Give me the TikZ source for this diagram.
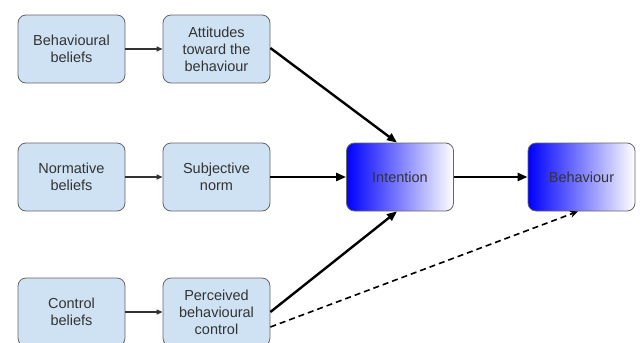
\documentclass[tikz,border=0pt]{standalone}
\usepackage{fontspec}
\setmainfont{Liberation Sans}
\usetikzlibrary{arrows.meta}
\definecolor{boxblue}{RGB}{207,226,243}
\definecolor{boxline}{RGB}{102,102,102}
\definecolor{boxtext}{RGB}{51,51,51}
\begin{document}
\begin{tikzpicture}[x=1pt,y=-1pt,
  belief/.style={
    draw=boxline, fill=boxblue, rounded corners=8pt, thick,
    minimum width=107pt, minimum height=68pt, align=center,
    text=boxtext, font=\fontsize{14.5}{17}\selectfont,
  },
  result/.style={
    belief, fill=none, left color=blue, right color=white,
  },
  thin arrow/.style={-{Triangle[length=6pt,width=5pt]}, line width=1.2pt, draw=black!80},
  thick arrow/.style={-{Triangle[length=10pt,width=8pt]}, line width=2.4pt},
  ]
  \clip (0,0) rectangle (641,343);
  \node[belief] (BB) at (71.5,49) {Behavioural\\beliefs};
  \node[belief] (AT) at (216.5,49) {Attitudes\\toward the\\behaviour};
  \node[belief] (NB) at (71.5,177) {Normative\\beliefs};
  \node[belief] (SN) at (216.5,177) {Subjective\\norm};
  \node[belief] (CB) at (71.5,312) {Control\\beliefs};
  \node[belief] (PC) at (216.5,312) {Perceived\\behavioural\\control};
  \node[result] (I) at (400,177) {Intention};
  \node[result] (B) at (581.5,177) {Behaviour};
  \draw[thin arrow] (BB) -- (AT);
  \draw[thin arrow] (NB) -- (SN);
  \draw[thin arrow] (CB) -- (PC);
  \draw[thick arrow] (AT.east) ++(0,-1) -- (I.north -| 397,0);
  \draw[thick arrow] (SN) -- (I);
  \draw[thick arrow] (PC.east) -- (I.south -| 397,0);
  \draw[thick arrow] (I) -- (B);
  \draw[dashed, line width=1.6pt, dash pattern=on 6pt off 4pt, -{Stealth[length=8pt,width=7pt]}] (PC.east) ++(0,15) -- (B.south -| 578,0);
\end{tikzpicture}
\end{document}
